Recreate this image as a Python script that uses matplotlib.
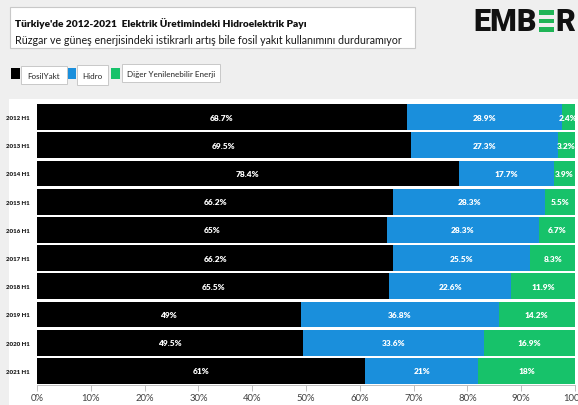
import matplotlib
matplotlib.use("Agg")
import matplotlib.pyplot as plt
from matplotlib.patches import Rectangle
from matplotlib import font_manager as fm

years = ["2012 H1", "2013 H1", "2014 H1", "2015 H1", "2016 H1",
         "2017 H1", "2018 H1", "2019 H1", "2020 H1", "2021 H1"]
fosil = [68.7, 69.5, 78.4, 66.2, 65, 66.2, 65.5, 49, 49.5, 61]
hidro = [28.9, 27.3, 17.7, 28.3, 28.3, 25.5, 22.6, 36.8, 33.6, 21]
diger = [2.4, 3.2, 3.9, 5.5, 6.7, 8.3, 11.9, 14.2, 16.9, 18]
series_names = ["FosilYakt", "Hidro", "Diğer Yenilenebilir Enerji"]
colors = ["#000000", "#1a8fdc", "#17c26a"]
xticks = [0, 10, 20, 30, 40, 50, 60, 70, 80, 90, 100]
title = "Türkiye'de 2012-2021  Elektrik Üretimindeki Hidroelektrik Payı"
subtitle = "Rüzgar ve güneş enerjisindeki istikrarlı artış bile fosil yakıt kullanımını durduramıyor"

names = {f.name for f in fm.fontManager.ttflist}
FONT = "Lato" if "Lato" in names else "DejaVu Sans"
plt.rcParams["font.family"] = [FONT, "DejaVu Sans"]

W, H, DPI = 578, 406, 100
fig = plt.figure(figsize=(W / DPI, H / DPI), dpi=DPI, facecolor="#efefef")

def px(x, y):
    return x / W, 1 - y / H

# white plot panel
fig.patches.append(Rectangle(px(9, 406), (578 - 9) / W, (406 - 100) / H,
                             transform=fig.transFigure, facecolor="white",
                             edgecolor="none", zorder=-10))
# title box
fig.patches.append(Rectangle(px(10, 49), (415 - 10) / W, (49 - 8) / H,
                             transform=fig.transFigure, facecolor="white",
                             edgecolor="#c8c8c8", linewidth=0.8, zorder=-5))

renderer = fig.canvas.get_renderer()

def fit_text(x, y, s, width_px, size0, **kw):
    t = fig.text(*px(x, y), s, fontsize=size0, **kw)
    w = t.get_window_extent(renderer).width
    t.set_fontsize(size0 * width_px / w)
    return t

fit_text(15, 24, title, 292, 9, fontweight="heavy", color="#111111", va="center", ha="left")
fit_text(15, 41, subtitle, 387, 9, color="#1a1a1a", va="center", ha="left")

# legend
leg = [(11, 20, 21, 67, 67, 85), (68, 76, 77, 108, 66, 86), (111, 120, 122, 220, 65, 83)]
for (sx0, sx1, bx0, bx1, by0, by1), name, c in zip(leg, series_names, colors):
    fig.patches.append(Rectangle(px(sx0, 80), (sx1 - sx0) / W, 11 / H,
                                 transform=fig.transFigure, facecolor=c,
                                 edgecolor="none", zorder=-4))
    fig.patches.append(Rectangle(px(bx0, by1), (bx1 - bx0) / W, (by1 - by0) / H,
                                 transform=fig.transFigure, facecolor="white",
                                 edgecolor="#c8c8c8", linewidth=0.7, zorder=-3))
    fig.text(*px((bx0 + bx1) / 2, (by0 + by1) / 2 + 0.5), name, fontsize=5.8,
             color="#222222", ha="center", va="center", zorder=3)

# EMBER logo
lx, ly = 473, 22
t1 = fig.text(*px(lx, ly), "EMB", fontsize=22, fontweight="heavy",
              color="#111111", ha="left", va="center", family=["Roboto", "DejaVu Sans"])
bb = t1.get_window_extent(renderer)
ex0 = bb.x1 + 2
ew = 15
for i, yy in enumerate([11.5, 20, 28.5]):
    fig.patches.append(Rectangle(px(ex0, yy + 4), ew / W, 4.5 / H,
                                 transform=fig.transFigure, facecolor="#1fb456",
                                 edgecolor="none", zorder=-2))
fig.text(*px(ex0 + ew + 2, ly), "R", fontsize=22, fontweight="heavy",
         color="#111111", ha="left", va="center", family=["Roboto", "DejaVu Sans"])

# axes
ax = fig.add_axes([37 / W, 1 - 386 / H, (575 - 37) / W, (386 - 104) / H])
ax.set_facecolor("none")
ax.set_zorder(5)
left = [0] * len(years)
for vals, c in zip([fosil, hidro, diger], colors):
    bars = ax.barh(years, vals, left=left, height=0.92, color=c, edgecolor="none")
    for b, v, l in zip(bars, vals, left):
        ax.text(l + v / 2, b.get_y() + b.get_height() / 2, f"{v:g}%",
                ha="center", va="center", color="white", fontsize=6,
                fontweight="heavy", clip_on=False)
    left = [a + b for a, b in zip(left, vals)]

ax.set_xlim(0, 100)
ax.set_ylim(len(years) - 0.5, -0.5)
ax.set_xticks(xticks)
ax.set_xticklabels([f"{t}%" for t in xticks], fontsize=6.8, color="#404040")
ax.tick_params(axis="x", length=4, width=0.7, color="#bfbfbf", pad=2)
ax.tick_params(axis="y", length=0, pad=5, labelsize=4.4, labelcolor="#222222")
for lab in ax.get_yticklabels():
    lab.set_fontweight("heavy")
for s in ["top", "right", "left"]:
    ax.spines[s].set_visible(False)
ax.spines["bottom"].set_color("#bfbfbf")
ax.spines["bottom"].set_linewidth(0.7)

fig.savefig("out.png", dpi=DPI, facecolor=fig.get_facecolor())
